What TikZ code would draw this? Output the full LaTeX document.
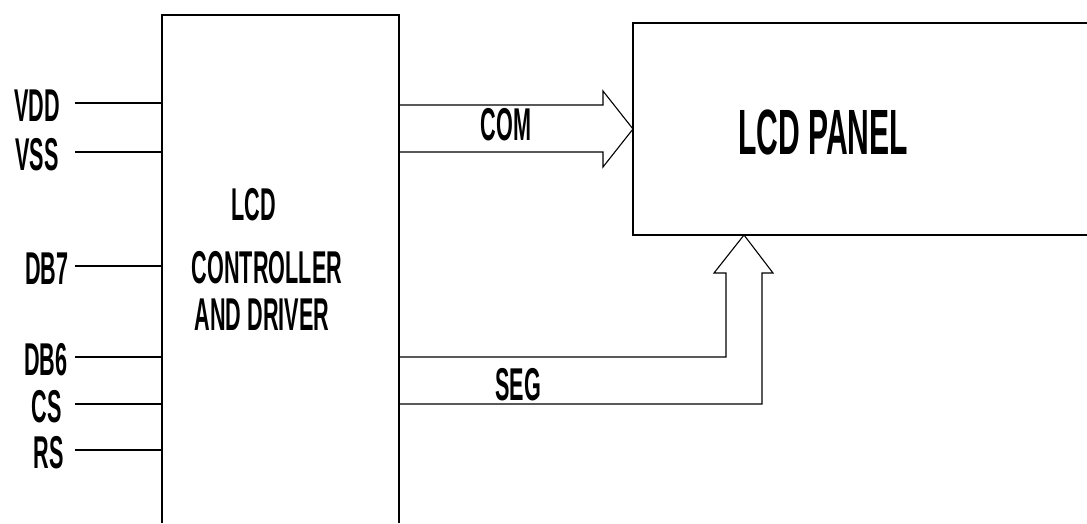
\documentclass[tikz,border=0pt]{standalone}
\usepackage{fontspec}
\setmainfont{Liberation Sans}[FakeStretch=0.47]
\begin{document}
\begin{tikzpicture}[x=1pt,y=-1pt,
  wire/.style={draw=black, line width=1.1pt},
  lbl/.style={inner sep=0pt, font=\fontsize{46}{50}\selectfont\bfseries},
  biglbl/.style={inner sep=0pt, font=\fontsize{64}{68}\selectfont\bfseries}]
\useasboundingbox (0,0) rectangle (1087,523);
% controller block (open at the bottom edge of the picture)
\coordinate (ctl) at (162,15);
\coordinate (ctr) at (399,15);
\draw[wire] (162,523) -- (ctl) -- (ctr) -- (399,523);
% LCD panel (open to the right edge)
\coordinate (pnl) at (633,23);
\draw[wire] (1087,23) -- (pnl) -- (633,235) -- (1087,235);
% texts of the blocks
\node[lbl] (t1) at (254,205) {LCD};
\node[lbl] (t2) at (267,268) {CONTROLLER};
\node[lbl] (t3) at (262,315) {AND DRIVER};
\node[biglbl] (panel) at (823,132) {LCD PANEL};
% pins
\foreach \n/\y/\x in {VDD/103/37, VSS/152/37, DB7/266/47, DB6/357/46, CS/404/47, RS/450/49}{
  \node[lbl] (p\n) at (\x,\y+3) {\n};
  \coordinate (s\n) at (75,\y);
  \coordinate (e\n) at (162,\y);
  \draw[wire] (s\n) -- (e\n);
}
% COM bus arrow
\coordinate (comA) at (399,105);
\coordinate (comB) at (399,152);
\coordinate (comTip) at (633,129);
\draw[wire, line join=miter] (comA) -- (603,105) -- (603,91) -- (comTip) -- (603,167) -- (603,152) -- (comB);
\node[lbl] (com) at (506,125) {COM};
% SEG bus arrow
\coordinate (segA) at (399,357);
\coordinate (segB) at (399,404);
\coordinate (segTip) at (744,235);
\draw[wire, line join=miter] (segA) -- (726,357) -- (726,273) -- (714,273) -- (segTip) -- (773,273) -- (762,273) -- (762,404) -- (segB);
\node[lbl] (seg) at (518,385) {SEG};
\end{tikzpicture}
\end{document}
